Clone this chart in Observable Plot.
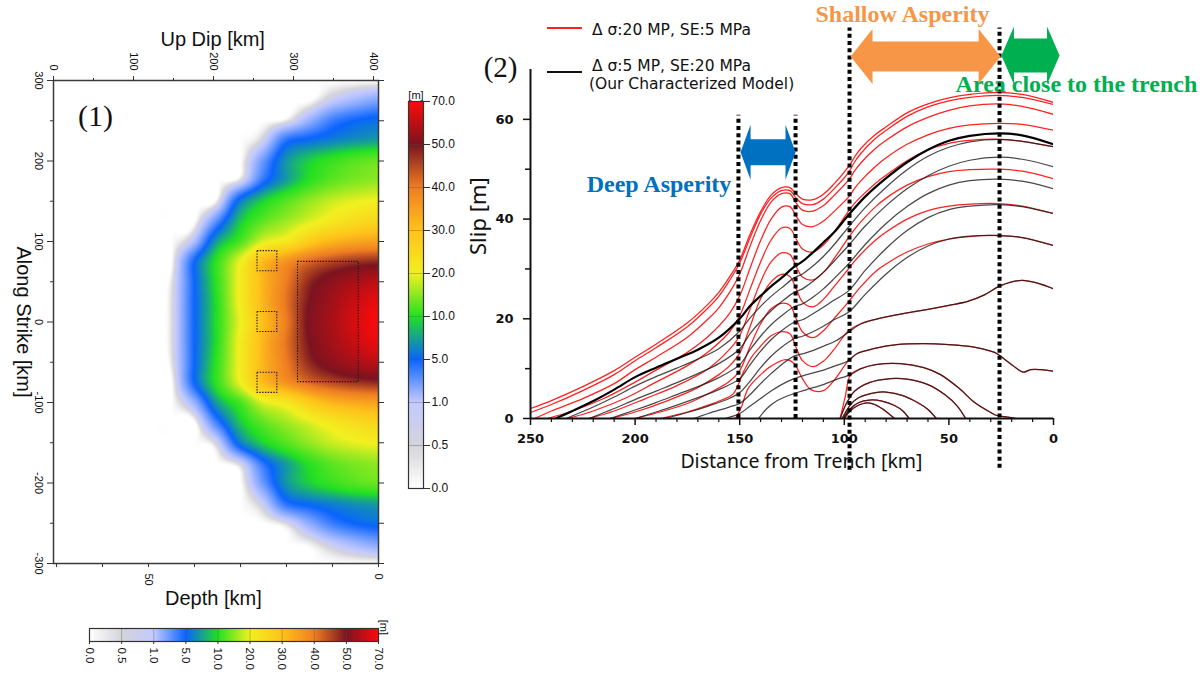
<!DOCTYPE html>
<html>
<head>
<meta charset="utf-8">
<script src="https://cdn.jsdelivr.net/npm/d3@7"></script>
<script src="https://cdn.jsdelivr.net/npm/@observablehq/plot@0.6"></script>
<style>
  html, body { margin: 0; padding: 0; background: #fff; }
  #root { position: relative; width: 1203px; height: 674px; overflow: hidden; background: #fff; }
  #root > svg { position: absolute; left: 0; top: 0; }
  .t { position: absolute; white-space: nowrap; line-height: normal; font-family: "DejaVu Sans", sans-serif; font-size: 15.5px; color: #111; }
  .sw { position: absolute; }
</style>
</head>
<body>
<div id="root">
  <div class="sw" style="left:547px;top:27px;width:35px;height:2px;background:#ff2020"></div>
  <div class="t" style="left:592px;top:21px">Δ σ:20 MP, SE:5 MPa</div>
  <div class="sw" style="left:547px;top:70.5px;width:35px;height:2.2px;background:#111"></div>
  <div class="t" style="left:592px;top:56.8px">Δ σ:5 MP, SE:20 MPa</div>
  <div class="t" style="left:589px;top:75.3px">(Our Characterized Model)</div>
</div>
<script>
const W = 1203, H = 674;

// ---------------- Panel (1): slip distribution on the fault ----------------
const depthCols = [0, 5, 10, 15, 20, 25, 30, 35, 40, 45, 50, 60, 70.65];
const strikeRows = [300, 275, 250, 225, 200, 175, 150, 125, 100, 75, 50, 25, 0,
                    -25, -50, -75, -100, -125, -150, -175, -200, -225, -250, -275, -300];
const slipGrid = [
  [0, 0, 0, 0, 0, 0, 0, 0, 0, 0, 0, 0, 0],
  [2.5, 1.8, 1, 0, 0, 0, 0, 0, 0, 0, 0, 0, 0],
  [5.5, 5, 4, 2, 0.3, 0, 0, 0, 0, 0, 0, 0, 0],
  [7.5, 7, 6.3, 5.5, 4.5, 0.8, 0, 0, 0, 0, 0, 0, 0],
  [13.5, 12.5, 11, 9.3, 7, 3, 0, 0, 0, 0, 0, 0, 0],
  [15.5, 14.5, 13, 10.5, 7.5, 4.5, 0.6, 0, 0, 0, 0, 0, 0],
  [20.5, 19.5, 18, 15.5, 12.5, 9.5, 6, 0.3, 0, 0, 0, 0, 0],
  [26, 24.5, 22, 19, 16, 13, 9, 3.5, 0, 0, 0, 0, 0],
  [35, 34, 32, 28, 22, 19, 12, 7.5, 1.5, 0, 0, 0, 0],
  [48, 47, 45, 42, 37, 31, 20, 11, 5, 0, 0, 0, 0],
  [60, 57, 53, 48, 40, 32, 21, 11, 5, 0.3, 0, 0, 0],
  [67, 62, 56, 50, 41, 32, 21, 10.5, 5, 0.4, 0, 0, 0],
  [69, 64, 57, 51, 40, 30.5, 20, 10.5, 5, 0.4, 0, 0, 0],
  [67, 62, 56, 50, 41, 32, 21, 10.5, 5, 0.4, 0, 0, 0],
  [60, 57, 53, 48, 40, 32, 21, 11, 5, 0.3, 0, 0, 0],
  [48, 47, 45, 42, 37, 31, 20, 11, 5, 0, 0, 0, 0],
  [35, 34, 32, 28, 22, 19, 12, 7.5, 2, 0, 0, 0, 0],
  [26, 24.5, 22, 19, 16, 13, 9, 4, 0, 0, 0, 0, 0],
  [20.5, 19.5, 18, 15.5, 12.5, 9.5, 6, 0.8, 0, 0, 0, 0, 0],
  [15.5, 14.5, 13, 10.5, 7.5, 4.5, 0.8, 0, 0, 0, 0, 0, 0],
  [13.5, 12.5, 11, 9.3, 7, 3, 0, 0, 0, 0, 0, 0, 0],
  [7.5, 7, 6.3, 5.5, 4.5, 1, 0, 0, 0, 0, 0, 0, 0],
  [5.5, 5, 4, 2.2, 0.5, 0, 0, 0, 0, 0, 0, 0, 0],
  [2.5, 1.8, 1, 0.2, 0, 0, 0, 0, 0, 0, 0, 0, 0],
  [0, 0, 0, 0, 0, 0, 0, 0, 0, 0, 0, 0, 0]
];
// asperity boxes: [depth from, depth to, strike from, strike to]
const asperityBoxes = [
  [4.3, 17.5, -74.7, 74.7],
  [22, 26.3, 63, 88],
  [22, 26.3, -12.5, 12.5],
  [22, 26.3, -88, -63]
];
const upDipTicks = [0, 100, 200, 300, 400];
const upDipMinor = [50, 150, 250, 350];
const strikeTicks = [300, 200, 100, 0, -100, -200, -300];
const strikeMinor = [250, 150, 50, -50, -150, -250];
const depthTicks = [70, 60, 50, 40, 30, 20, 10, 0];
const depthLabels = [50, 0];

// colour scale
const slipLevels = [0, 0.5, 1, 5, 10, 20, 30, 40, 50, 70];
const slipLevelLabels = ["0.0", "0.5", "1.0", "5.0", "10.0", "20.0", "30.0", "40.0", "50.0", "70.0"];
const slipColors = ["#ffffff", "#d4d4da", "#c4caff", "#0a64ff", "#22e022", "#f2f020", "#ffc21a", "#ef7e22", "#7a1420", "#ff0a0a"];

// ---------------- Panel (2): slip profiles vs distance from trench ----------------
const redCurves = [
  [[250,2],[240,3.6],[225,6.4],[210,9.6],[200,12.3],[190,14.9],[175,19.2],[165,23],[160,25.3],[155,28.3],[150,31.8],[145,37],[140,41.5],[135,44.8],[130,46.3],[126,46.3],[123,45],[120,44],[115,43.9],[110,45],[105,47],[98,50.5],[95,52.5],[92,54.2],[85,57],[80,58.5],[70,61.3],[60,63.1],[50,64.3],[40,65],[26,65.4],[15,65],[0,63.4]],
  [[250,1.2],[240,2.8],[225,5.6],[210,8.8],[200,11.6],[190,14.2],[175,18.4],[165,22.2],[160,24.5],[155,27.6],[150,31.2],[145,36.3],[140,41],[135,44.2],[130,45.7],[126,45.7],[123,44.2],[120,43.1],[115,42.9],[110,44],[105,46],[98,49.3],[95,51.5],[92,53.2],[85,56.2],[80,57.8],[70,60.6],[60,62.5],[50,63.7],[40,64.4],[26,64.8],[15,64.4],[0,63]],
  [[248,0],[240,1.5],[225,4],[210,7],[200,9.8],[190,12.3],[175,16.3],[165,20],[160,22.2],[155,25.2],[150,29],[145,34.6],[140,39.7],[135,43.4],[130,45.1],[126,45.1],[123,43.2],[120,41.8],[115,41.6],[110,42.7],[105,44.7],[98,47.8],[95,49.7],[92,51.3],[85,54.2],[80,55.8],[70,58.5],[60,60.4],[50,61.8],[40,62.7],[26,63.1],[15,62.6],[0,61]],
  [[242,0],[230,1.5],[215,4],[200,7.3],[190,9.7],[175,13.3],[165,16.5],[155,21],[150,24.6],[145,30.2],[140,35.7],[135,40],[130,42.4],[126,42.5],[123,40.6],[120,38.9],[115,38.5],[110,39.6],[105,41.5],[98,44.4],[95,46.2],[92,47.7],[85,50.6],[80,52.3],[70,55],[60,56.9],[50,58.2],[40,58.9],[26,59.2],[15,59],[0,57.8]],
  [[232,0],[220,1.5],[205,4],[190,7.3],[175,10.6],[165,13.4],[155,17.3],[150,20.6],[145,26],[140,31.4],[135,35.8],[130,38.2],[126,38.1],[123,36],[120,34],[115,33.4],[110,34.8],[105,37.3],[98,41.6],[95,43.2],[92,44.5],[85,47.2],[80,48.8],[70,51.7],[60,53.9],[50,55.2],[40,55.8],[26,56],[15,55.6],[0,54.5]],
  [[222,0],[210,1.5],[195,4],[180,6.6],[165,10],[155,13.8],[150,16.6],[145,22],[140,27.4],[135,31.4],[130,33.2],[126,32.9],[123,30.5],[120,28.4],[115,27.8],[110,29.3],[105,32],[98,36.3],[95,38],[92,39.5],[85,42.5],[80,44.2],[70,46.8],[60,48.5],[50,49.5],[40,49.9],[26,50],[15,49.6],[0,48.1]],
  [[212,0],[200,1.3],[185,3.5],[170,6.2],[160,8.8],[155,10.5],[150,13.1],[145,18.5],[140,24],[135,27.4],[130,28.9],[126,28.5],[123,26],[120,23.4],[115,22.4],[110,23.9],[105,26.4],[98,30],[95,31.6],[92,33],[85,35.8],[80,37.4],[70,40],[60,41.7],[50,42.6],[40,43],[26,43.1],[15,42.6],[0,41.1]],
  [[200,0],[188,1.3],[175,3],[165,5],[155,7.4],[150,9.6],[145,14.5],[140,19],[135,22],[130,23.1],[126,22.7],[123,20],[120,17.4],[115,16.2],[110,17.6],[105,20],[98,23.4],[95,25],[92,26.5],[85,29.5],[80,31],[70,33.4],[60,35],[50,36],[40,36.5],[26,36.7],[15,36.3],[0,34.7]],
  [[188,0],[175,1.3],[165,2.7],[158,3.8],[153,5],[148,9.5],[144,12.5],[140,14.5],[135,16.6],[130,17.4],[126,17],[123,14.2],[120,11.6],[115,10.4],[110,11.5],[105,13.8],[98,17.6],[92,19],[85,19.9],[80,20.4],[70,21.2],[60,21.9],[50,22.7],[41,23.5],[33,24.8],[26,26.5],[20,27.4],[15,27.7],[8,27.2],[0,26]],
  [[152,0],[149,2.5],[146,6],[140,8.8],[135,10.5],[128,11.8],[124,11],[120,8],[116,5.8],[110,5.6],[105,7.6],[98,11.6],[94,13],[86,14],[75,14.8],[62,15],[50,14.8],[38,14.3],[30,13.5],[27,13],[20.6,11],[14.3,9.3],[11,9.8],[6,9.8],[0,9.5]],
  [[102,0],[99.5,4.5],[97,8.8],[92,10],[85,10.8],[73,11],[62,10.2],[54,8.8],[45,6],[38,3.3],[30,1.2],[27,0.6],[22,0.3],[18,0]],
  [[102,0],[99,3],[95,5.5],[88,7.2],[78,8],[70,7.9],[60,6.8],[52,4.8],[46,2.5],[42,0]],
  [[101,0],[97,2.8],[93,4.2],[85,5.2],[80,5.3],[72,4.6],[65,3.2],[60,1.8],[56,0]],
  [[100.5,0],[97,2],[93,3.2],[88,3.7],[82,3.5],[76,2.6],[72,1.5],[69,0]],
  [[100,0],[97,1.6],[93,2.7],[90,3.1],[86,2.9],[82,2],[76,0]]
];
const blackCurves = [
  [[238,0],[230,1.5],[220,3.5],[210,5.8],[200,8.3],[190,10.2],[180,12],[170,13.8],[160,16.2],[150,20],[145,22.6],[140,24.6],[135,26.5],[130,28.2],[124,30.4],[120,31.5],[115,33.3],[110,35.3],[105,37.3],[98,40.8],[90,44.5],[80,48.2],[70,51.4],[60,53.9],[50,55.7],[40,56.7],[26,57.2],[15,56.8],[0,55]],
  [[233,0],[220,2.3],[210,4.3],[200,6.5],[190,8.4],[180,10.1],[170,11.9],[160,14],[150,17.5],[145,20.2],[140,22.5],[135,24.5],[130,26.2],[124,28.2],[120,29],[115,30.6],[110,32.5],[105,34.8],[98,38.4],[90,42.3],[80,46.4],[70,49.9],[60,52.6],[50,54.4],[40,55.5],[26,56],[15,55.6],[0,54.5]],
  [[222,0],[210,2],[200,3.8],[190,5.5],[180,7.2],[170,9],[160,11],[150,14],[145,17],[140,19.5],[135,21.6],[130,23.4],[124,25.3],[120,26],[115,27.5],[110,29.3],[105,31.5],[98,34.7],[90,38.6],[80,42.7],[70,46.1],[60,48.7],[50,50.6],[40,51.8],[26,52.4],[15,52],[0,50.5]],
  [[212,0],[200,1.7],[190,3.2],[180,4.8],[170,6.4],[160,8.2],[150,10.8],[145,13.8],[140,16.5],[135,18.8],[130,20.6],[124,22.4],[120,23],[115,24.3],[110,26],[105,28],[98,31],[90,34.9],[80,39.1],[70,42.5],[60,45.1],[50,46.8],[40,47.7],[26,48],[15,47.6],[0,46.1]],
  [[200,0],[190,1.3],[180,2.7],[170,4.2],[160,5.8],[150,8],[145,10.8],[140,13.5],[135,15.8],[130,17.6],[124,19.3],[120,19.8],[115,21],[110,22.3],[105,23.7],[98,25.6],[90,29.7],[80,34.1],[70,37.7],[60,40.3],[50,41.9],[40,42.6],[26,42.9],[15,42.5],[0,41.1]],
  [[186,0],[175,1.2],[165,2.5],[155,4],[150,5.2],[145,7.5],[140,10.2],[135,12.5],[130,14.3],[124,16],[120,16.5],[115,17.4],[110,18.5],[105,19.8],[98,21.3],[90,24.9],[80,29],[70,32.3],[60,34.6],[50,36],[40,36.6],[26,36.7],[15,36.3],[0,34.7]],
  [[172,0],[165,1],[155,2.3],[150,3],[145,4.8],[140,7],[135,9],[130,10.8],[124,12.5],[118,13.2],[110,14.5],[104,15.6],[98,17.3],[92,19],[85,19.9],[80,20.4],[70,21.2],[60,21.9],[50,22.7],[41,23.5],[33,24.8],[26,26.5],[20,27.4],[15,27.7],[8,27.2],[0,26]],
  [[157,0],[150,1],[145,2.5],[140,4],[135,5.5],[130,6.8],[124,8],[118,8.8],[110,9.7],[104,10.6],[98,11.6],[94,13],[86,14],[75,14.8],[62,15],[50,14.8],[38,14.3],[30,13.5],[27,13],[20.6,11],[14.3,9.3],[11,9.8],[6,9.8],[0,9.5]],
  [[141,0],[137,2],[132,3.6],[124,5],[118,5.8],[110,6.8],[104,7.8],[97,8.8],[92,10],[85,10.8],[73,11],[62,10.2],[54,8.8],[45,6],[38,3.3],[30,1.2],[27,0.6],[22,0.3],[18,0]],
  [[102,0],[99,3],[95,5.5],[88,7.2],[78,8],[70,7.9],[60,6.8],[52,4.8],[46,2.5],[42,0]],
  [[101,0],[97,2.8],[93,4.2],[85,5.2],[80,5.3],[72,4.6],[65,3.2],[60,1.8],[56,0]],
  [[100.5,0],[97,2],[93,3.2],[88,3.7],[82,3.5],[76,2.6],[72,1.5],[69,0]],
  [[100,0],[97,1.6],[93,2.7],[90,3.1],[86,2.9],[82,2],[76,0]]
];
const slipTicks = [0, 20, 40, 60];
const slipMinor = [10, 30, 50];
const distTicks = [250, 200, 150, 100, 50, 0];
const distMinor = [240, 230, 220, 210, 190, 180, 170, 160, 140, 130, 120, 110, 90, 80, 70, 60, 40, 30, 20, 10];
const boundaryKm = [150.6, 123.3, 97.5, 25.8];
const boundaryTop = [60.8, 60.8, 78.3, 78.3];
const boundaryBottom = [0, 0, -10.4, -10];
const arrowFrom = [149.6, 97, 24.9];
const arrowTo = [123.3, 25.3, -2.9];
const arrowLevel = [53.4, 72.6, 72.8];
const arrowColors = ["#0070c0", "#f79646", "#00b050"];
const noteTexts = ["Deep Asperity", "Shallow Asperity", "Area close to the trench"];
const noteKm = [154, 113.8, 46.8];
const noteSlip = [46.9, 81.0, 67.0];
const noteAnchor = ["end", "start", "start"];

// ---------------- drawing ----------------
const root = document.getElementById("root");
const colorScale = {type: "linear", domain: slipLevels, range: slipColors, interpolate: "rgb"};
const sty = () => ({background: "transparent", overflow: "visible", fontFamily: "'Liberation Sans', Arial, sans-serif", color: "#111"});
const blank = () => "";

// smooth (Catmull-Rom) sampling of the slip grid, used by the raster
function cr(p0, p1, p2, p3, t) {
  return 0.5 * (2 * p1 + (-p0 + p2) * t + (2 * p0 - 5 * p1 + 4 * p2 - p3) * t * t + (-p0 + 3 * p1 - 3 * p2 + p3) * t * t * t);
}
function interp1(xs, vs, x) {
  const n = xs.length;
  let i = 0;
  while (i < n - 2 && x > xs[i + 1]) i++;
  const t = Math.max(0, Math.min(1, (x - xs[i]) / (xs[i + 1] - xs[i])));
  return cr(vs[Math.max(0, i - 1)], vs[i], vs[i + 1], vs[Math.min(n - 1, i + 2)], t);
}
const rowsAsc = strikeRows.map((s, i) => ({s, i})).sort((a, b) => a.s - b.s);
const sAsc = rowsAsc.map(r => r.s);
const colCache = new Map();
function slipAt(d, s) {
  let col = colCache.get(d);
  if (!col) {
    col = rowsAsc.map(r => interp1(depthCols, slipGrid[r.i], d));
    colCache.set(d, col);
  }
  return Math.max(0, Math.min(70, interp1(sAsc, col, s)));
}

const p1 = Plot.plot({
  width: W, height: H,
  marginLeft: 53, marginRight: W - 378, marginTop: 80, marginBottom: H - 563,
  style: sty(),
  x: {domain: [70.65, 0], axis: null},
  y: {domain: [-300, 300], axis: null},
  color: colorScale,
  marks: [
    Plot.raster({fill: (x, y) => slipAt(x, y), x1: 70.65, x2: 0, y1: -300, y2: 300, pixelSize: 1}),
    Plot.rect(asperityBoxes, {x1: b => b[0], x2: b => b[1], y1: b => b[2], y2: b => b[3], fill: "none", stroke: "#1a1a1a", strokeWidth: 1.1, strokeDasharray: "1.4,1.4"}),
    Plot.frame({stroke: "#3a3a3a", strokeWidth: 1.5}),
    Plot.axisX(depthTicks, {anchor: "bottom", tickSize: 4, tickFormat: blank, label: null, stroke: "#333"}),
    Plot.axisY(strikeTicks, {anchor: "left", tickSize: 6, tickFormat: blank, label: null, stroke: "#333"}),
    Plot.axisY(strikeMinor, {anchor: "left", tickSize: 3, tickFormat: blank, label: null, stroke: "#333"}),
    Plot.axisY(strikeTicks.concat(strikeMinor), {anchor: "right", tickSize: 5, tickFormat: blank, label: null, stroke: "#333"}),
    Plot.text(strikeTicks, {x: 70.65, y: d => d, text: d => String(d), rotate: 90, dx: -14.5, fontSize: 11, lineAnchor: "middle"}),
    Plot.text(depthLabels, {x: d => d, y: -300, text: d => String(d), rotate: 90, textAnchor: "start", dy: 10, fontSize: 11, lineAnchor: "middle"}),
    Plot.text(["Depth [km]"], {x: 35.9, y: -300, dy: 34.6, text: d => d, fontSize: 20, lineAnchor: "middle"}),
    Plot.text(["Along Strike [km]"], {x: 70.65, y: 0, dx: -30.5, rotate: 90, text: d => d, fontSize: 20, lineAnchor: "middle"}),
    Plot.text(["(1)"], {x: 61.5, y: 256, text: d => d, fontSize: 30, fontFamily: "'Liberation Serif', serif", lineAnchor: "middle"})
  ]
});
root.appendChild(p1);

// panel 1 top axis (Up Dip)
const p1t = Plot.plot({
  width: W, height: H,
  marginLeft: 53, marginRight: W - 378, marginTop: 80, marginBottom: H - 563,
  style: sty(),
  x: {domain: [0, 406.25], axis: null},
  y: {domain: [0, 1], axis: null},
  marks: [
    Plot.axisX(upDipTicks, {anchor: "top", tickSize: 5, tickFormat: blank, label: null, stroke: "#333"}),
    Plot.axisX(upDipMinor, {anchor: "top", tickSize: 3, tickFormat: blank, label: null, stroke: "#333"}),
    Plot.text(upDipTicks, {x: d => d, frameAnchor: "top", dy: -10, rotate: 90, textAnchor: "end", lineAnchor: "middle", text: d => String(d), fontSize: 11}),
    Plot.text(["Up Dip [km]"], {x: 199, frameAnchor: "top", dy: -41, lineAnchor: "middle", text: d => d, fontSize: 20})
  ]
});
root.appendChild(p1t);

// colour bars
const cbIndex = d3.range(slipLevels.length);
const idxToVal = d3.scaleLinear().domain(cbIndex).range(slipLevels);

const cbR = Plot.plot({
  width: W, height: H,
  marginLeft: 408, marginRight: W - 423, marginTop: 101, marginBottom: H - 488,
  style: sty(),
  x: {domain: [0, 1], axis: null},
  y: {domain: [0, 9], axis: null},
  color: colorScale,
  marks: [
    Plot.raster({fill: (x, y) => idxToVal(y), x1: 0, x2: 1, y1: 0, y2: 9, pixelSize: 1}),
    Plot.ruleY(d3.range(1, 9), {stroke: "#555", strokeOpacity: 0.45, strokeWidth: 0.8}),
    Plot.frame({stroke: "#333", strokeWidth: 1.2}),
    Plot.axisY(cbIndex, {anchor: "right", tickSize: 6, tickPadding: 2, tickFormat: i => slipLevelLabels[i], fontSize: 12, label: null, stroke: "#333"}),
    Plot.text(["[m]"], {frameAnchor: "top", dy: -6, lineAnchor: "middle", text: d => d, fontSize: 11})
  ]
});
root.appendChild(cbR);

const cbB = Plot.plot({
  width: W, height: H,
  marginLeft: 89, marginRight: W - 378, marginTop: 628, marginBottom: H - 641,
  style: sty(),
  x: {domain: [0, 9], axis: null},
  y: {domain: [0, 1], axis: null},
  color: colorScale,
  marks: [
    Plot.raster({fill: (x, y) => idxToVal(x), x1: 0, x2: 9, y1: 0, y2: 1, pixelSize: 1}),
    Plot.ruleX(d3.range(1, 9), {stroke: "#555", strokeOpacity: 0.45, strokeWidth: 0.8}),
    Plot.frame({stroke: "#333", strokeWidth: 1.2}),
    Plot.axisX(cbIndex, {anchor: "bottom", tickSize: 3, tickFormat: blank, label: null, stroke: "#333"}),
    Plot.text(cbIndex, {x: d => d, frameAnchor: "bottom", dy: 6, rotate: 90, textAnchor: "start", lineAnchor: "middle", text: i => slipLevelLabels[i], fontSize: 11.5}),
    Plot.text(["[m]"], {frameAnchor: "right", dx: 5, rotate: 90, lineAnchor: "middle", text: d => d, fontSize: 11})
  ]
});
root.appendChild(cbB);

// panel 2
const toRows = curves => curves.flatMap((c, i) => c.map(([km, slip]) => ({id: i, km, slip})));
const redData = toRows(redCurves);
const blackThin = toRows(blackCurves.slice(1));
const blackThick = toRows(blackCurves.slice(0, 1));
const dotted = boundaryKm.map((km, i) => ({km, y1: boundaryBottom[i], y2: boundaryTop[i]}));
const arrowBody = [2.6, 3.0, 3.4];
const arrowHead = [5.5, 5.5, 5.8];
const arrowLen = [4.8, 10.5, 6];
const arrowMarks = arrowFrom.map((L, i) => {
  const R = arrowTo[i], y = arrowLevel[i], b = arrowBody[i], h = arrowHead[i], len = arrowLen[i];
  const pts = [[L, y], [L - len, y + h], [L - len, y + b], [R + len, y + b], [R + len, y + h], [R, y],
               [R + len, y - h], [R + len, y - b], [L - len, y - b], [L - len, y - h], [L, y]];
  return Plot.line(pts, {x: d => d[0], y: d => d[1], fill: arrowColors[i], stroke: "none", curve: "linear"});
});
const noteMarks = noteTexts.map((t, i) =>
  Plot.text([t], {x: noteKm[i], y: noteSlip[i], text: d => d, textAnchor: noteAnchor[i], fill: arrowColors[i],
    fontSize: 24, fontWeight: "bold", fontFamily: "'Liberation Serif', serif", lineAnchor: "middle"}));

const tickFont = {fontSize: 13, fontWeight: "bold", fontFamily: "'DejaVu Sans', sans-serif"};
const p2 = Plot.plot({
  width: W, height: H,
  marginLeft: 530, marginRight: W - 1053, marginTop: 69, marginBottom: H - 418,
  style: sty(),
  x: {domain: [250, 0], axis: null},
  y: {domain: [0, 70], axis: null},
  marks: [
    Plot.line(redData, {x: "km", y: "slip", z: "id", stroke: "#ff2020", strokeWidth: 1.25, curve: "catmull-rom", clip: true}),
    Plot.line(blackThin, {x: "km", y: "slip", z: "id", stroke: "#1a1a1a", strokeOpacity: 0.8, strokeWidth: 1.25, curve: "catmull-rom", clip: true}),
    Plot.line(blackThick, {x: "km", y: "slip", z: "id", stroke: "#000", strokeWidth: 2.2, curve: "catmull-rom", clip: true}),
    Plot.ruleX([250], {stroke: "#111", strokeWidth: 2}),
    Plot.ruleY([0], {stroke: "#111", strokeWidth: 2}),
    Plot.axisY(slipTicks, {anchor: "left", tickSize: 7, tickPadding: 10, label: null, strokeWidth: 1.5, ...tickFont}),
    Plot.axisY(slipMinor, {anchor: "left", tickSize: 5, tickFormat: blank, label: null, strokeWidth: 1.5}),
    Plot.axisX(distTicks, {anchor: "bottom", tickSize: 7, tickPadding: 8, label: null, strokeWidth: 1.5, ...tickFont}),
    Plot.axisX(distMinor, {anchor: "bottom", tickSize: 4, tickFormat: blank, label: null, strokeWidth: 1.2}),
    Plot.text(["Slip [m]"], {frameAnchor: "left", y: 32.8, dx: -52, rotate: -90, lineAnchor: "middle", text: d => d, fontSize: 22, fontFamily: "'Noto Sans', sans-serif"}),
    Plot.text(["Distance from Trench [km]"], {x: 120.5, y: 0, dy: 43, lineAnchor: "middle", text: d => d, fontSize: 19.5, fontFamily: "'Noto Sans', sans-serif"}),
    Plot.ruleX(dotted, {x: "km", y1: "y1", y2: "y2", stroke: "#000", strokeWidth: 4, strokeDasharray: "4,3.2"}),
    arrowMarks,
    noteMarks,
    Plot.text(["(2)"], {x: 264.3, y: 70.3, text: d => d, fontSize: 29, fontFamily: "'Liberation Serif', serif", lineAnchor: "middle"})
  ]
});
root.appendChild(p2);
</script>
</body>
</html>
